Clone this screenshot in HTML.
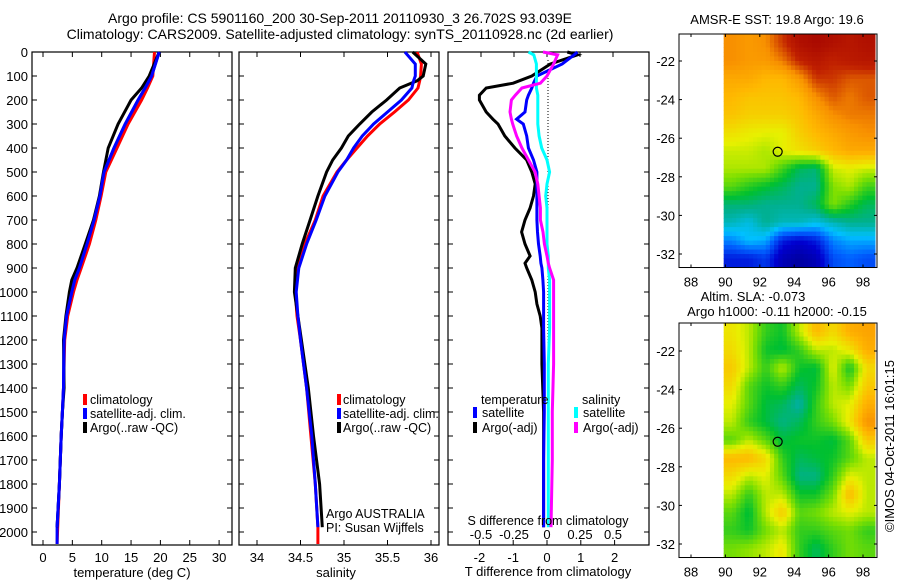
<!DOCTYPE html>
<html><head><meta charset="utf-8"><style>
body{margin:0;background:#fff}
svg{display:block;font-family:"Liberation Sans",sans-serif}
</style></head><body>
<svg id="c" width="900" height="580" viewBox="0 0 900 580">
<rect width="900" height="580" fill="#fff"/>
<text x="340" y="23" font-size="14" text-anchor="middle">Argo profile: CS 5901160_200 30-Sep-2011 20110930_3 26.702S 93.039E</text>
<text x="340" y="39" font-size="14" text-anchor="middle">Climatology: CARS2009. Satellite-adjusted climatology: synTS_20110928.nc (2d earlier)</text>
<g id="g"></g>
</svg>
<script>
// ---- data ----
const depthT = [0,100,150,200,300,400,500,600,700,800,900,950,1000,1100,1200,1400,1500,1600,1800,1980,2050];
const tempClim = [19.0,18.7,17.8,16.8,14.5,12.6,10.7,9.9,9.0,7.9,6.5,5.8,5.2,4.2,3.7,3.5,3.3,3.1,2.8,2.5,2.4];
const tempSat  = [19.8,18.5,17.4,16.2,14.0,12.1,10.4,9.7,8.7,7.5,6.2,5.4,4.9,4.0,3.6,3.5,3.3,3.1,2.8,2.4,2.4];
const tempArgo = [19.8,18.1,16.8,15.0,12.8,11.1,10.3,9.6,8.6,7.2,5.8,4.9,4.5,3.9,3.5,3.6,3.3,3.1,2.8,2.4,2.4];
const depthS = [0,50,100,120,150,200,250,300,350,400,450,500,600,700,800,900,1000,1100,1200,1400,1600,1800,1980,2050];
const salClim = [35.84,35.89,35.88,35.87,35.85,35.74,35.58,35.41,35.27,35.15,35.03,34.92,34.76,34.67,34.55,34.47,34.44,34.46,34.50,34.57,34.62,34.67,34.70,34.70];
const salSat  = [35.70,35.82,35.82,35.80,35.78,35.66,35.50,35.34,35.21,35.11,35.03,34.93,34.78,34.68,34.57,34.48,34.45,34.47,34.50,34.57,34.63,34.67,34.70,34.70];
const salArgo = [35.79,35.94,35.91,35.84,35.64,35.49,35.32,35.18,35.05,34.97,34.87,34.80,34.70,34.61,34.52,34.44,34.43,34.47,34.51,34.59,34.65,34.72,34.75,34.75];
const depthD = [0,12,50,100,130,150,180,200,250,280,300,350,400,450,500,550,600,650,700,750,800,850,880,900,950,1000,1050,1100,1150,1300,1500,1700,1980];
const dTArgo = [0.6,0.9,0.1,-0.45,-1.0,-1.8,-2.0,-2.0,-1.8,-1.6,-1.45,-1.25,-0.95,-0.6,-0.45,-0.35,-0.4,-0.5,-0.65,-0.75,-0.65,-0.5,-0.65,-0.6,-0.45,-0.35,-0.3,-0.2,-0.15,-0.15,-0.1,-0.1,-0.1];
const dTSat  = [0.9,0.8,0.45,-0.3,-0.4,-0.45,-0.55,-0.6,-0.65,-0.9,-0.7,-0.6,-0.55,-0.4,-0.3,-0.3,-0.3,-0.3,-0.3,-0.28,-0.25,-0.2,-0.18,-0.15,-0.12,-0.1,-0.1,-0.1,-0.1,-0.08,-0.08,-0.1,-0.1];
const dSArgo = [-0.03,0.08,0.05,0,-0.05,-0.19,-0.24,-0.27,-0.28,-0.27,-0.26,-0.23,-0.19,-0.14,-0.09,-0.07,-0.06,-0.05,-0.05,-0.03,-0.02,0,0.01,0.02,0.05,0.05,0.05,0.05,0.05,0.05,0.04,0.04,0.03];
const dSSat  = [-0.14,-0.1,-0.08,-0.08,-0.08,-0.08,-0.07,-0.07,-0.07,-0.07,-0.07,-0.06,-0.04,0,0.02,0,-0.01,0,0,0,0,0.01,0.01,0.01,0.02,0.02,0.02,0.02,0.02,0.01,0.01,0.01,0.01];
const depthTicks = [0,100,200,300,400,500,600,700,800,900,1000,1100,1200,1300,1400,1500,1600,1700,1800,1900,2000];
const tempTicks = [0,5,10,15,20,25,30];
const salTicks = [34,34.5,35,35.5,36];
const tdTicks = [-2,-1,0,1,2];
const sdTicks = [-0.5,-0.25,0,0.25,0.5];
const lonTicks = [88,90,92,94,96,98];
const latTicks = [-22,-24,-26,-28,-30,-32];
const sstGrid = [
[.80,.78,.80,.88,.95,.97,.95,.93,.95],
[.80,.78,.78,.82,.90,.93,.90,.92,.93],
[.75,.75,.72,.72,.78,.88,.88,.85,.85],
[.72,.70,.70,.70,.72,.80,.85,.82,.85],
[.70,.68,.68,.68,.70,.75,.80,.82,.82],
[.65,.63,.62,.62,.68,.72,.75,.78,.80],
[.60,.60,.58,.62,.65,.68,.72,.75,.75],
[.58,.58,.58,.50,.42,.40,.60,.62,.60],
[.52,.48,.45,.42,.38,.38,.55,.58,.50],
[.40,.40,.38,.38,.38,.42,.55,.48,.42],
[.35,.32,.38,.35,.35,.32,.35,.38,.38],
[.25,.30,.28,.15,.12,.15,.25,.28,.28],
[.15,.15,.18,.08,.05,.08,.20,.22,.20]];
const slaGrid = [
[.64,.59,.49,.46,.59,.72,.66,.74,.76],
[.66,.59,.46,.44,.49,.59,.59,.64,.74],
[.69,.59,.49,.59,.46,.44,.62,.46,.66],
[.66,.52,.46,.49,.42,.46,.59,.54,.69],
[.62,.52,.44,.42,.36,.49,.59,.62,.74],
[.59,.49,.44,.39,.42,.49,.54,.64,.79],
[.52,.59,.52,.44,.46,.46,.44,.52,.69],
[.72,.72,.66,.49,.42,.44,.46,.52,.59],
[.66,.59,.62,.52,.39,.39,.49,.62,.59],
[.59,.49,.59,.59,.46,.46,.54,.72,.59],
[.52,.44,.59,.69,.52,.54,.59,.62,.59],
[.49,.46,.54,.59,.49,.49,.52,.54,.49],
[.54,.56,.59,.64,.49,.42,.49,.54,.52]];
const argoLon = 93.039, argoLat = -26.702;

// ---- helpers ----
const NS="http://www.w3.org/2000/svg", G=document.getElementById('g');
function mk(tag,a,parent){const e=document.createElementNS(NS,tag);for(const k in a)e.setAttribute(k,a[k]);(parent||G).appendChild(e);return e;}
function txt(x,y,s,size,anchor){const e=mk('text',{x:x,y:y,'font-size':size||12,'text-anchor':anchor||'middle'});e.textContent=s;return e;}
const TOP=52, BOT=545;
const yD = d => TOP + d*0.24;
const xT = v => 43 + v*5.87;
const xS = v => 257 + (v-34)*87;
const xTD = v => 547 + v*33.8;
const xSD = v => 547 + v*132;
function line(xs,ds,fx,color,name){
  const pts = xs.map((v,i)=>fx(v).toFixed(1)+','+yD(ds[i]).toFixed(1)).join(' ');
  const p = mk('polyline',{points:pts,fill:'none',stroke:color,'stroke-width':3,'stroke-linejoin':'miter'});
  
  
}
function panel(x0,x1,name){
  const r = mk('rect',{x:x0,y:TOP,width:x1-x0,height:BOT-TOP,fill:'none',stroke:'#000','stroke-width':1.2});
  
  
  depthTicks.forEach(d=>{mk('line',{x1:x0,x2:x0+5,y1:yD(d),y2:yD(d),stroke:'#000'});mk('line',{x1:x1,x2:x1-5,y1:yD(d),y2:yD(d),stroke:'#000'});});
}
function legBar(x,y,c){mk('rect',{x:x,y:y-10,width:4,height:11,fill:c});}
const LF=12.5;

// ---- panel 1: temperature ----
panel(32,232,'temperature-panel');
depthTicks.forEach(d=>{const t=txt(28,yD(d)+5,String(d),13,'end');});
tempTicks.forEach(v=>{mk('line',{x1:xT(v),x2:xT(v),y1:BOT,y2:BOT-5,stroke:'#000'});mk('line',{x1:xT(v),x2:xT(v),y1:TOP,y2:TOP+5,stroke:'#000'});
  const t=txt(xT(v),BOT+17,String(v),13);});
line(tempClim,depthT,xT,'#f00','temp-climatology-line');
line(tempSat,depthT,xT,'#00f','temp-satellite-line');
line(tempArgo.slice(0,-1),depthT.slice(0,-1),xT,'#000','temp-argo-line');
line(tempSat.slice(0,-1),depthT.slice(0,-1),xT,'#00f','temp-satellite-line-top');
let t;
t=txt(132,577,'temperature (deg C)',13);
legBar(83,404,'#f00');legBar(83,418,'#00f');legBar(83,432,'#000');
t=txt(90,404,'climatology',LF,'start');
t=txt(90,418,'satellite-adj. clim.',LF,'start');
t=txt(90,432,'Argo(..raw -QC)',LF,'start');

// ---- panel 2: salinity ----
panel(239,439,'salinity-panel');
salTicks.forEach(v=>{mk('line',{x1:xS(v),x2:xS(v),y1:BOT,y2:BOT-5,stroke:'#000'});mk('line',{x1:xS(v),x2:xS(v),y1:TOP,y2:TOP+5,stroke:'#000'});
  const t=txt(xS(v),BOT+17,String(v),13);});
line(salClim,depthS,xS,'#f00','sal-climatology-line');
line(salArgo.slice(0,-1),depthS.slice(0,-1),xS,'#000','sal-argo-line');
line(salSat.slice(0,-1),depthS.slice(0,-1),xS,'#00f','sal-satellite-line');
t=txt(336,577,'salinity',13);
legBar(337,404,'#f00');legBar(337,418,'#00f');legBar(337,432,'#000');
t=txt(343,404,'climatology',LF,'start');
t=txt(343,418,'satellite-adj. clim.',LF,'start');
t=txt(343,432,'Argo(..raw -QC)',LF,'start');
t=txt(326,518,'Argo AUSTRALIA',LF,'start');
t=txt(326,532,'PI: Susan Wijffels',LF,'start');

// ---- panel 3: differences ----
panel(448,649,'difference-panel');
mk('line',{x1:548,x2:548,y1:60,y2:400,stroke:'#000','stroke-dasharray':'1,2'});
tdTicks.forEach(v=>{mk('line',{x1:xTD(v),x2:xTD(v),y1:BOT,y2:BOT-5,stroke:'#000'});
  const t=txt(xTD(v),BOT+17,String(v),13);});
sdTicks.forEach(v=>{mk('line',{x1:xSD(v),x2:xSD(v),y1:TOP,y2:TOP+5,stroke:'#000'});
  const t=txt(xSD(v),539,String(v),13);});
line(dTArgo,depthD,xTD,'#000','tdiff-argo-line');
line(dTSat,depthD,xTD,'#00f','tdiff-satellite-line');
line(dSSat,depthD,xSD,'#0ff','sdiff-satellite-line');
line(dSArgo,depthD,xSD,'#f0f','sdiff-argo-line');
t=txt(548,525,'S difference from climatology',LF);
t=txt(548,576,'T difference from climatology',13);
mk('rect',{x:478,y:392,width:60,height:46,fill:'#fff'});mk('rect',{x:575,y:392,width:60,height:46,fill:'#fff'});
t=txt(481,404,'temperature',LF,'start');
t=txt(582,404,'salinity',LF,'start');
legBar(473,417,'#00f');legBar(473,432,'#000');legBar(574,417,'#0ff');legBar(574,432,'#f0f');
t=txt(482,417,'satellite',LF,'start');
t=txt(482,432,'Argo(-adj)',LF,'start');
t=txt(583,417,'satellite',LF,'start');
t=txt(583,432,'Argo(-adj)',LF,'start');

// ---- maps ----
const stops=[[0,'#000080'],[0.12,'#0000d0'],[0.22,'#0060ff'],[0.3,'#00c0ff'],[0.38,'#00b090'],[0.45,'#00c030'],[0.55,'#80e000'],[0.62,'#e8f000'],[0.72,'#ffb800'],[0.8,'#f89000'],[0.9,'#c02000'],[1,'#a00000']];
function hx(h){return [1,3,5].map(i=>parseInt(h.substr(i,2),16));}
function cmap(v){v=Math.max(0,Math.min(1,v));for(let i=1;i<stops.length;i++){if(v<=stops[i][0]){const a=stops[i-1],b=stops[i],f=(v-a[0])/(b[0]-a[0]);const ca=hx(a[1]),cb=hx(b[1]);return 'rgb('+ca.map((c,j)=>Math.round(c+(cb[j]-c)*f)).join(',')+')';}}return stops[stops.length-1][1];}
function sample(grid,fr,fc){
  const R=grid.length-1,C=grid[0].length-1;
  fr=Math.max(0,Math.min(R,fr));fc=Math.max(0,Math.min(C,fc));
  const r0=Math.floor(fr),c0=Math.floor(fc),r1=Math.min(R,r0+1),c1=Math.min(C,c0+1),a=fr-r0,b=fc-c0;
  return grid[r0][c0]*(1-a)*(1-b)+grid[r0][c1]*(1-a)*b+grid[r1][c0]*a*(1-b)+grid[r1][c1]*a*b;
}
const xLon = v => 691 + (v-88)*17.2;
function map(grid, top, lat22, name){
  const yLat = v => lat22 + (-22 - v)*19.3;
  const bottom = yLat(-32.7);
  const x0 = xLon(89.9), x1 = 875;
  const rows=grid.length, cols=grid[0].length, S=4;
  const ch=(bottom-top)/(rows*S), cw=(x1-x0)/(cols*S);
  for(let r=0;r<rows*S;r++)for(let c=0;c<cols*S;c++){
    const v=sample(grid,(r+0.5)/S-0.5,(c+0.5)/S-0.5);
    const e=mk('rect',{x:(x0+c*cw).toFixed(2),y:(top+r*ch).toFixed(2),width:(cw+0.5).toFixed(2),height:(ch+0.5).toFixed(2),fill:cmap(v)});
    
    
  }
  const fr=mk('rect',{x:679,y:top,width:198,height:bottom-top,fill:'none',stroke:'#000'});
  
  
  lonTicks.forEach(v=>{mk('line',{x1:xLon(v),x2:xLon(v),y1:bottom,y2:bottom-3,stroke:'#000'});mk('line',{x1:xLon(v),x2:xLon(v),y1:top,y2:top+3,stroke:'#000'});
    const t=txt(xLon(v),bottom+19,String(v),13);});
  latTicks.forEach(v=>{mk('line',{x1:679,x2:682,y1:yLat(v),y2:yLat(v),stroke:'#000'});mk('line',{x1:877,x2:874,y1:yLat(v),y2:yLat(v),stroke:'#000'});
    const t=txt(675,yLat(v)+5,String(v),13,'end');});
  const m=mk('circle',{cx:xLon(argoLon),cy:yLat(argoLat),r:4.5,fill:'none',stroke:'#000','stroke-width':1.2});
  
  
}
map(sstGrid,34,61,'sst-map');
map(slaGrid,323,351,'sla-map');
t=txt(777,24,'AMSR-E SST: 19.8 Argo: 19.6',13);
t=txt(753,301,'Altim. SLA: -0.073',13);
t=txt(777,316,'Argo h1000: -0.11 h2000: -0.15',13);
t=txt(0,0,'©IMOS 04-Oct-2011 16:01:15',13);t.setAttribute('transform','translate(894,446) rotate(-90)');

</script>
</body></html>
